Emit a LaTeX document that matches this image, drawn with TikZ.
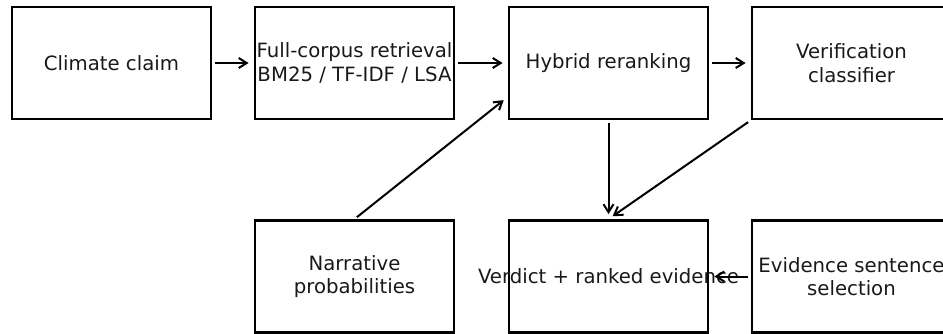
\documentclass[tikz,border=0pt]{standalone}
\usepackage{fontspec}
\setmainfont{DejaVu Sans}
\usetikzlibrary{arrows.meta}
\begin{document}
\begin{tikzpicture}[x=1pt,y=1pt,
  box/.style={draw=black,line width=2.8pt,minimum width=199pt,minimum height=112pt,inner sep=0pt,fill=none},
  lbl/.style={align=center,inner sep=0pt,font=\fontsize{19.7}{23.4}\selectfont,text=black!90},
  arr/.style={line width=2pt,-{Straight Barb[length=8pt,width=10pt,line width=2pt]},shorten <=3pt,shorten >=5pt}]
\useasboundingbox (0,0) rectangle (943,-333);
\node[box] (cc) at (111.5,-63) {};
\node[box] (fr) at (354.5,-63) {};
\node[box] (hr) at (608.5,-63) {};
\node[box] (vc) at (851.5,-63) {};
\node[box] (np) at (354.5,-276.5) {};
\node[box] (vd) at (608.5,-276.5) {};
\node[box] (es) at (851.5,-276.5) {};
\node[lbl] (tcc) at (cc) {Climate claim};
\node[lbl] (tfr) at (fr) {Full-corpus retrieval\\BM25 / TF-IDF / LSA};
\node[lbl] (thr) at (hr) {Hybrid reranking};
\node[lbl] (tvc) at (vc) {Verification\\classifier};
\node[lbl] (tnp) at (np) {Narrative\\probabilities};
\node[lbl] (tvd) at (vd) {Verdict + ranked evidence};
\node[lbl] (tes) at (es) {Evidence sentence\\selection};
\coordinate (hrin) at ([yshift=-34pt]hr.west);
\draw[arr] (cc.east) -- (fr.west);
\draw[arr] (fr.east) -- (hr.west);
\draw[arr] (hr.east) -- (vc.west);
\draw[arr] (hr.south) -- (vd.north);
\draw[arr] (vc.south west) -- (vd.north);
\draw[arr] (np.north) -- (hrin);
\draw[arr] (es.west) -- (vd.east);
\end{tikzpicture}
\end{document}
